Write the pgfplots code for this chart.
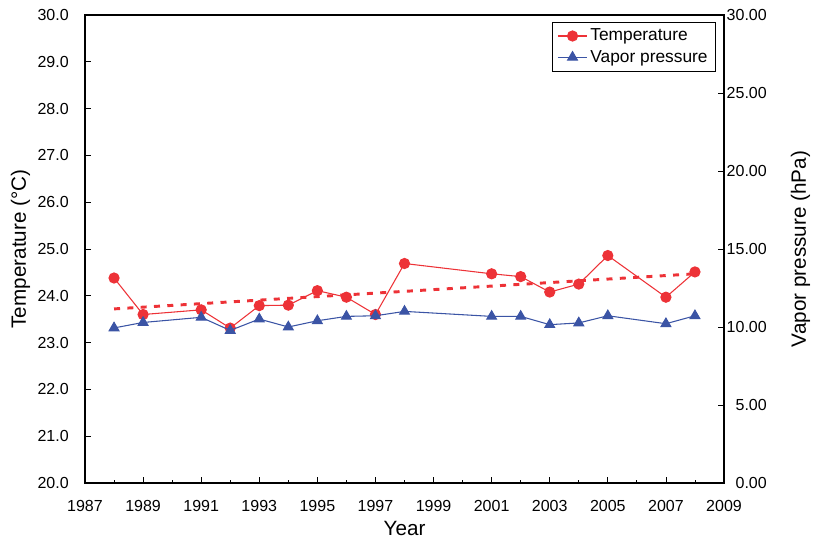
\documentclass[border=0pt]{standalone}
\usepackage{pgfplots}
\pgfplotsset{compat=1.18}
\usepackage{fontspec}
\setmainfont{Liberation Sans}
\definecolor{tred}{RGB}{237,50,55}
\definecolor{vblue}{RGB}{59,84,165}

\pgfplotstableread{
year temp
1988 24.38
1989 23.60
1991 23.70
1992 23.31
1993 23.79
1994 23.80
1995 24.11
1996 23.97
1997 23.60
1998 24.69
2001 24.47
2002 24.41
2003 24.08
2004 24.25
2005 24.86
2007 23.97
2008 24.51
}\temptable

\pgfplotstableread{
year vp
1988 9.94
1989 10.29
1991 10.62
1992 9.78
1993 10.51
1994 10.00
1995 10.40
1996 10.68
1997 10.72
1998 11.00
2001 10.68
2002 10.68
2003 10.15
2004 10.26
2005 10.72
2007 10.21
2008 10.72
}\vptable

\pgfplotstableread{
year trend
1988 23.72
2008 24.47
}\trendtable

\begin{document}
\begin{tikzpicture}
\pgfplotsset{
  every axis/.append style={
    scale only axis, width=479.25pt, height=351pt,
    xmin=1987, xmax=2009,
    /pgf/number format/assume math mode=true,
    tick label style={font=\fontsize{12}{14}\selectfont},
    label style={font=\fontsize{15.5}{18}\selectfont},
    axis line style={line width=0.9pt},
    major tick length=4.5pt, minor tick length=2.5pt,
    tick style={line width=0.6pt, black},
    tick align=inside,
  }
}
\begin{axis}[
  name=main, at={(0,0)}, anchor=south west,
  ymin=20, ymax=30,
  ytick={20,21,...,30},
  xtick={1987,1989,...,2009},
  minor xtick={1988,1990,...,2008},
  xtick pos=bottom, ytick pos=left,
  yticklabel style={/pgf/number format/fixed, /pgf/number format/fixed zerofill, /pgf/number format/precision=1, inner sep=0pt, xshift=-12pt},
  xticklabel style={/pgf/number format/set thousands separator={}, inner sep=0pt, yshift=-12.5pt},
  xlabel={Year}, ylabel={Temperature (°C)},
  xlabel style={yshift=-4pt},
  ylabel style={yshift=2pt},
  clip=false,
]
\addplot[tred, line width=2.2pt, dash pattern=on 4.5pt off 5.5pt] table[x=year,y=trend] {\trendtable};
\addplot[tred, line width=0.8pt, mark=*, mark size=3.8pt, mark options={solid, fill=tred, draw=tred}] table[x=year,y=temp] {\temptable};
\end{axis}
\begin{axis}[
  at={(0,0)}, anchor=south west,
  ymin=0, ymax=30,
  ytick={0,5,...,30},
  axis y line*=right, axis x line=none,
  yticklabel style={/pgf/number format/fixed, /pgf/number format/fixed zerofill, /pgf/number format/precision=2, inner sep=0pt, anchor=east, xshift=32.25pt},
  ylabel={Vapor pressure (hPa)},
  ylabel style={yshift=-14.5pt},
  legend style={at={(rel axis cs:1,1)}, anchor=north east, xshift=-6pt, yshift=-5.25pt,
    draw=black, line width=0.6pt, font=\fontsize{13}{15}\selectfont,
    inner xsep=4pt, inner ysep=3pt, row sep=1.5pt, cells={anchor=west}},
  legend cell align=left,
  legend image code/.code={\draw[mark repeat=2, mark phase=2, #1] plot coordinates {(0pt,0pt) (11pt,0pt) (22pt,0pt)};},
]
\addlegendimage{tred, line width=0.8pt, mark=*, mark size=3.8pt, mark options={solid, fill=tred, draw=tred}}
\addlegendentry{Temperature}
\addplot[vblue, line width=0.8pt, mark=triangle*, mark size=4.2pt, mark options={solid, fill=vblue, draw=vblue}] table[x=year,y=vp] {\vptable};
\addlegendentry{Vapor pressure}
\end{axis}
\pgfresetboundingbox
\path[use as bounding box] ([xshift=-63.75pt, yshift=-43.5pt]main.south west) rectangle ([xshift=68.25pt, yshift=11.25pt]main.north east);
\end{tikzpicture}
\end{document}
